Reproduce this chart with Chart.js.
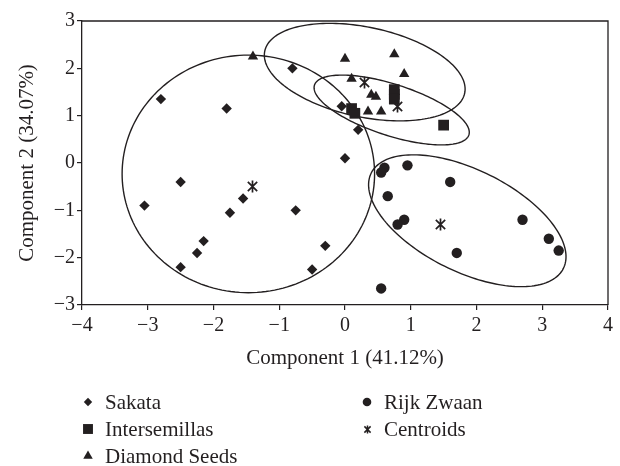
<!DOCTYPE html>
<html><head><meta charset="utf-8">
<script src="https://cdn.jsdelivr.net/npm/chart.js@4.4.1/dist/chart.umd.min.js"></script>
<style>html,body{margin:0;padding:0;background:#fff;}</style>
</head><body>
<canvas id="c" width="620" height="466"></canvas>
<script>
// ---- data ----
const seriesNames = ['Sakata', 'Intersemillas', 'Diamond Seeds', 'Rijk Zwaan', 'Centroids'];

const sakataX = [-0.8, -2.8, -1.8, -0.05, 0.2, 0.0, -2.5, -3.05, -1.55, -1.75, -0.75, -2.15, -2.25, -0.3, -2.5, -0.5];
const sakataY = [2.0, 1.35, 1.15, 1.2, 0.7, 0.1, -0.4, -0.9, -0.75, -1.05, -1.0, -1.65, -1.9, -1.75, -2.2, -2.25];

const interX = [0.1, 0.15, 0.75, 0.75, 0.75, 1.5];
const interY = [1.15, 1.05, 1.55, 1.45, 1.35, 0.8];

const diamondX = [-1.4, 0.0, 0.75, 0.9, 0.1, 0.4, 0.47, 0.35, 0.55];
const diamondY = [2.25, 2.2, 2.3, 1.88, 1.78, 1.44, 1.4, 1.09, 1.09];

const rijkX = [0.6, 0.55, 0.95, 1.6, 0.65, 0.9, 0.8, 2.7, 3.1, 3.25, 1.7, 0.55];
const rijkY = [-0.1, -0.2, -0.05, -0.4, -0.7, -1.2, -1.3, -1.2, -1.6, -1.85, -1.9, -2.65];

const centroidX = [-1.4, 0.3, 0.8, 1.45];
const centroidY = [-0.5, 1.7, 1.2, -1.3];

const xTickLabels = ['\u22124', '\u22123', '\u22122', '\u22121', '0', '1', '2', '3', '4'];
const yTickLabels = ['\u22123', '\u22122', '\u22121', '0', '1', '2', '3'];

const xTitle = 'Component 1 (41.12%)';
const yTitle = 'Component 2 (34.07%)';

// group ellipses in data units: centre and two conjugate semi-axis vectors
const ellipseCX = [-1.47, 0.30, 0.71, 1.86];
const ellipseCY = [-0.23, 1.92, 1.12, -1.22];
const ellipseAX = [1.92, 1.52, 1.174, 1.461];
const ellipseAY = [0.0, -0.447, -0.527, -1.008];
const ellipseBX = [0.0, -0.143, -0.121, -0.346];
const ellipseBY = [2.51, -0.928, -0.516, -0.961];

// ---- rendering ----
const ink = '#231f20';
const serif = '"Liberation Serif", "Times New Roman", serif';

function makeStar(size, lw) {
  const c = document.createElement('canvas');
  c.width = size; c.height = size;
  const g = c.getContext('2d');
  g.strokeStyle = ink; g.lineWidth = lw; g.lineCap = 'butt';
  const m = size / 2, r = size / 2 - 0.5;
  const d = r * 0.78;
  g.beginPath();
  g.moveTo(m, m - r); g.lineTo(m, m + r);
  g.moveTo(m - d, m - d); g.lineTo(m + d, m + d);
  g.moveTo(m + d, m - d); g.lineTo(m - d, m + d);
  g.stroke();
  return c;
}
const starBig = makeStar(13, 1.7);
const starSmall = makeStar(9, 1.5);

function pts(xs, ys) { return xs.map((x, i) => ({x: x, y: ys[i]})); }

const ellipsePlugin = {
  id: 'groupEllipses',
  beforeDatasetsDraw(chart) {
    const {ctx, scales: {x, y}, chartArea} = chart;
    ctx.save();
    ctx.beginPath();
    ctx.rect(chartArea.left, chartArea.top, chartArea.right - chartArea.left, chartArea.bottom - chartArea.top);
    ctx.clip();
    ctx.strokeStyle = ink;
    ctx.lineWidth = 1.4;
    for (let k = 0; k < ellipseCX.length; k++) {
      ctx.beginPath();
      const n = 180;
      for (let i = 0; i <= n; i++) {
        const t = i / n * Math.PI * 2;
        const dx = ellipseCX[k] + ellipseAX[k] * Math.cos(t) + ellipseBX[k] * Math.sin(t);
        const dy = ellipseCY[k] + ellipseAY[k] * Math.cos(t) + ellipseBY[k] * Math.sin(t);
        const px = x.getPixelForValue(dx), py = y.getPixelForValue(dy);
        if (i === 0) ctx.moveTo(px, py); else ctx.lineTo(px, py);
      }
      ctx.closePath();
      ctx.stroke();
    }
    ctx.restore();
    ctx.imageSmoothingEnabled = false;
  },
  afterDatasetsDraw(chart) {
    chart.ctx.imageSmoothingEnabled = true;
  },
  afterDraw(chart) {
    const {ctx, chartArea} = chart;
    ctx.save();
    ctx.strokeStyle = ink;
    ctx.lineWidth = 1.3;
    ctx.beginPath();
    ctx.moveTo(chartArea.left, chartArea.top);
    ctx.lineTo(chartArea.right, chartArea.top);
    ctx.lineTo(chartArea.right, chartArea.bottom);
    ctx.stroke();

    // legend in two columns
    const items = [
      {ds: 0, x: 88, y: 402, style: 'rectRot', r: 4.2},
      {ds: 1, x: 88, y: 429, style: 'rect', r: 7},
      {ds: 2, x: 88, y: 456, style: 'triangle', r: 5.5},
      {ds: 3, x: 367, y: 402, style: 'circle', r: 4.3},
      {ds: 4, x: 367, y: 429, style: starSmall, r: 5}
    ];
    ctx.fillStyle = ink;
    ctx.font = '21px ' + serif;
    ctx.textBaseline = 'middle';
    ctx.textAlign = 'left';
    ctx.imageSmoothingEnabled = false;
    items.forEach(it => {
      Chart.helpers.drawPoint(ctx, {pointStyle: it.style, radius: it.r, rotation: 0, borderWidth: 0}, it.x, it.y);
      ctx.fillStyle = ink;
      ctx.fillText(chart.data.datasets[it.ds].label, it.x + 17, it.y + 1);
    });
    ctx.restore();
  }
};

const tickFont = {family: serif, size: 20};

new Chart(document.getElementById('c'), {
  type: 'scatter',
  data: {
    datasets: [
      {label: seriesNames[0], data: pts(sakataX, sakataY), pointStyle: 'rectRot', pointRadius: 5.2},
      {label: seriesNames[1], data: pts(interX, interY), pointStyle: 'rect', pointRadius: 7.6},
      {label: seriesNames[2], data: pts(diamondX, diamondY), pointStyle: 'triangle', pointRadius: 6},
      {label: seriesNames[3], data: pts(rijkX, rijkY), pointStyle: 'circle', pointRadius: 5.2},
      {label: seriesNames[4], data: pts(centroidX, centroidY), pointStyle: starBig, pointRadius: 6}
    ].map(d => Object.assign(d, {backgroundColor: ink, borderColor: ink, borderWidth: 0, pointHoverRadius: d.pointRadius}))
  },
  options: {
    responsive: false,
    animation: false,
    devicePixelRatio: 1,
    layout: {padding: {left: 0, right: 12, top: 21, bottom: 0}},
    plugins: {legend: {display: false}, tooltip: {enabled: false}},
    scales: {
      x: {
        type: 'linear', min: -4, max: 4,
        afterFit(s) { s.height = 161; },
        ticks: {stepSize: 1, color: ink, font: tickFont, padding: 4, maxRotation: 0,
          callback: (v, i) => xTickLabels[i]},
        grid: {display: true, drawOnChartArea: false, drawTicks: true, tickLength: 5, color: ink, lineWidth: 1.2},
        border: {display: true, color: ink, width: 1.3},
        title: {display: true, text: xTitle, color: ink, font: {family: serif, size: 21}, padding: {top: 0, bottom: 95}}
      },
      y: {
        type: 'linear', min: -3, max: 3,
        afterFit(s) { s.width = 82; },
        ticks: {stepSize: 1, color: ink, font: tickFont, padding: 2,
          callback: (v, i) => yTickLabels[i]},
        grid: {display: true, drawOnChartArea: false, drawTicks: true, tickLength: 5, color: ink, lineWidth: 1.2},
        border: {display: true, color: ink, width: 1.3},
        title: {display: true, text: yTitle, color: ink, font: {family: serif, size: 21}, padding: {top: 15, bottom: 0}}
      }
    }
  },
  plugins: [ellipsePlugin]
});
</script>
</body></html>
